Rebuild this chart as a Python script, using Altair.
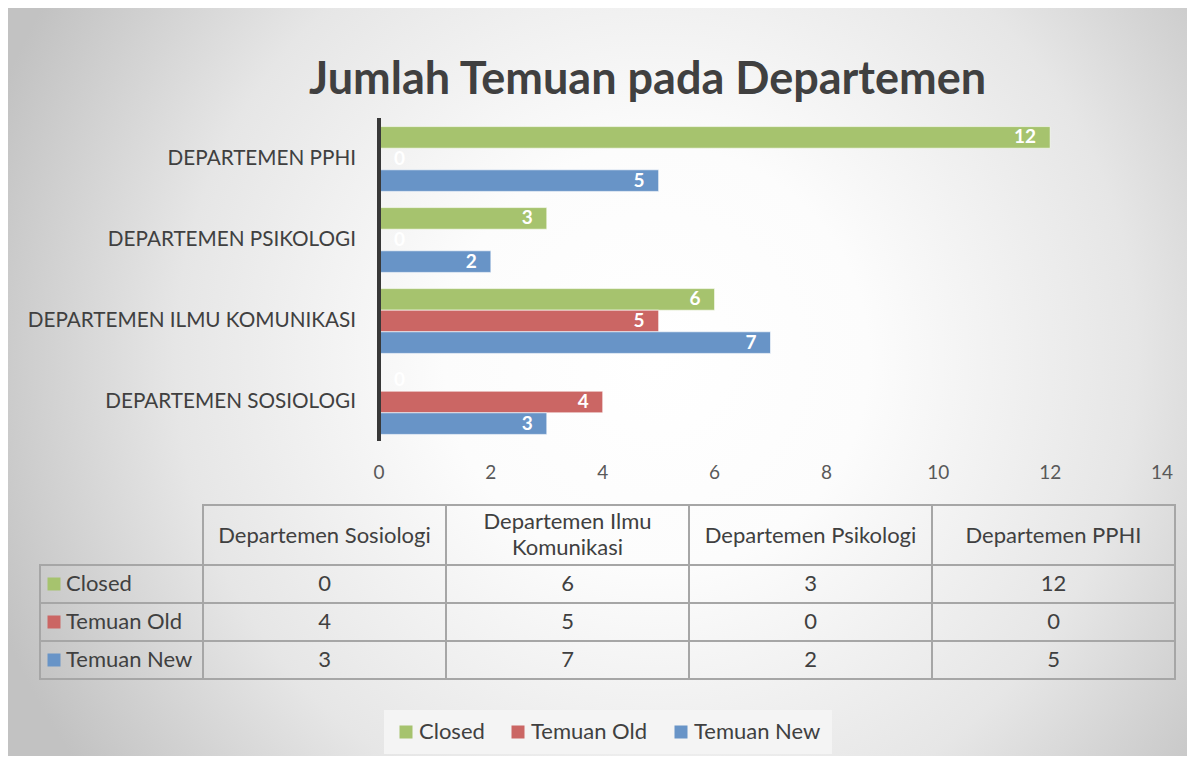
import altair as alt
import pandas as pd

# ---- data ----
departments = ["Departemen Sosiologi", "Departemen Ilmu Komunikasi", "Departemen Psikologi", "Departemen PPHI"]
series = ["Closed", "Temuan Old", "Temuan New"]
closed = [0, 6, 3, 12]
temuan_old = [4, 5, 0, 0]
temuan_new = [3, 7, 2, 5]
x_ticks = [0, 2, 4, 6, 8, 10, 12, 14]
colors = ["#A6C36E", "#CB6664", "#6894C7"]
title_text = "Jumlah Temuan pada Departemen"

rows = []
for s, vals in zip(series, [closed, temuan_old, temuan_new]):
    for d, v in zip(departments, vals):
        rows.append({"dept": d, "series": s, "value": v})
df = pd.DataFrame(rows)
dept_df = pd.DataFrame({"dept": departments})
series_df = pd.DataFrame({"series": series})
tick_df = pd.DataFrame({"t": x_ticks})
zero_df = pd.DataFrame({"z": [0]})
dept_top = departments[::-1]

FONT = "Lato"
TXT = "#404040"
GRID = "#A6A6A6"
W, H = 1179, 748
FS = 22  # table / legend text size

# ---- scales ----
def x_bar():
    return alt.Scale(domain=[0, 14], range=[371, 1154], nice=False, zero=True)

def y_bar():
    return alt.Scale(type="band", domain=dept_top, range=[110.5, 434.5], paddingInner=0.2, paddingOuter=0.1)

def y_off():
    return alt.Scale(type="band", domain=series, paddingInner=0, paddingOuter=0)

def x_tab():
    return alt.Scale(type="band", domain=departments, range=[195, 1167], paddingInner=0, paddingOuter=0)

def y_tab():
    return alt.Scale(type="band", domain=series, range=[557, 671], paddingInner=0, paddingOuter=0)

color_scale = alt.Scale(domain=series, range=colors)
legend = alt.Legend(
    title=None, orient="none", legendX=376, legendY=702, direction="horizontal",
    symbolType="square", symbolSize=169, symbolStrokeWidth=0, symbolOpacity=1,
    labelFont=FONT, labelFontSize=FS, labelColor=TXT, fillColor="#F4F4F4",
    padding=11, columnPadding=22, labelOffset=2,
)

def color_enc():
    return alt.Color("series:N", scale=color_scale, legend=legend)

# ---- background panel ----
gradient = {
    "gradient": "radial",
    "x1": 0.55, "y1": 0.48, "r1": 0,
    "x2": 0.55, "y2": 0.48, "r2": 0.6,
    "stops": [
        {"offset": 0.0, "color": "#FFFFFF"},
        {"offset": 0.3, "color": "#FCFCFC"},
        {"offset": 0.68, "color": "#E6E6E6"},
        {"offset": 1.0, "color": "#C2C2C2"},
    ],
}
bg = alt.Chart(zero_df).mark_rect(fill=gradient).encode(
    x=alt.value(0), x2=alt.value(W), y=alt.value(0), y2=alt.value(H)
)

# ---- bar chart ----
def X():
    return alt.X("value:Q", scale=x_bar(), axis=None)

def Y():
    return alt.Y("dept:N", scale=y_bar(), axis=None)

def YO():
    return alt.YOffset("series:N", scale=y_off())

bars = alt.Chart(df).mark_bar(stroke="#FFFFFF", strokeWidth=1, strokeOpacity=0.6).encode(
    x=X(), y=Y(), yOffset=YO(), color=color_enc()
)
lab_pos = alt.Chart(df).transform_filter("datum.value > 0").mark_text(
    align="right", baseline="middle", dx=-14, color="white", fontWeight="bold", fontSize=19, font=FONT
).encode(x=X(), y=Y(), yOffset=YO(), text=alt.Text("value:Q"))
lab_zero = alt.Chart(df).transform_filter("datum.value == 0").mark_text(
    align="left", baseline="middle", dx=15, color="white", fontWeight="bold", fontSize=19, font=FONT
).encode(x=X(), y=Y(), yOffset=YO(), text=alt.Text("value:Q"))
yline = alt.Chart(zero_df).mark_rule(color="#383838", strokeWidth=4).encode(
    x=alt.X("z:Q", scale=x_bar(), axis=None), y=alt.value(110), y2=alt.value(433)
)
dept_labels = alt.Chart(dept_df).transform_calculate(lbl="upper(datum.dept)").mark_text(
    align="right", baseline="middle", fontSize=20.7, font=FONT, color=TXT
).encode(y=Y(), x=alt.value(348), text="lbl:N")
tick_labels = alt.Chart(tick_df).mark_text(
    align="center", baseline="middle", fontSize=19, font=FONT, color="#595959"
).encode(x=alt.X("t:Q", scale=x_bar(), axis=None), y=alt.value(465), text="t:Q")

# ---- data table ----
def TX():
    return alt.X("dept:N", scale=x_tab(), axis=None)

def TY():
    return alt.Y("series:N", scale=y_tab(), axis=None)

wrap_expr = ("[join(slice(split(datum.dept, ' '), 0, 2), ' '), "
             "join(slice(split(datum.dept, ' '), 2), ' ')]")

cells = alt.Chart(df).mark_rect(fill="transparent", stroke=GRID, strokeWidth=2).encode(x=TX(), y=TY())
vals = alt.Chart(df).mark_text(fontSize=FS, font=FONT, color=TXT, baseline="middle").encode(
    x=TX(), y=TY(), text="value:Q"
)
head_cells = alt.Chart(dept_df).mark_rect(fill="transparent", stroke=GRID, strokeWidth=2).encode(
    x=TX(), y=alt.value(497), y2=alt.value(557)
)
head_one = alt.Chart(dept_df).transform_filter("length(datum.dept) <= 24").mark_text(
    fontSize=FS, font=FONT, color=TXT, baseline="middle"
).encode(x=TX(), y=alt.value(528), text="dept:N")
head_two = alt.Chart(dept_df).transform_filter("length(datum.dept) > 24").transform_calculate(
    w=wrap_expr
).mark_text(fontSize=FS, font=FONT, color=TXT, baseline="middle", lineHeight=26).encode(
    x=TX(), y=alt.value(514), text="w:N"
)
key_cells = alt.Chart(series_df).mark_rect(fill="transparent", stroke=GRID, strokeWidth=2).encode(
    x=alt.value(32), x2=alt.value(195), y=TY()
)
key_sq = alt.Chart(series_df).mark_square(size=169, opacity=1).encode(
    x=alt.value(46), y=TY(), color=color_enc()
)
key_txt = alt.Chart(series_df).mark_text(align="left", baseline="middle", fontSize=FS, font=FONT, color=TXT).encode(
    x=alt.value(58), y=TY(), text="series:N"
)

chart = alt.layer(
    bg, bars, lab_pos, lab_zero, yline, dept_labels, tick_labels,
    cells, vals, head_cells, head_one, head_two, key_cells, key_sq, key_txt,
).resolve_scale(
    x="independent", y="independent", yOffset="independent"
).properties(
    width=W, height=H, padding=0,
    autosize=alt.AutoSizeParams(type="none"),
    title=alt.Title(title_text, fontSize=45, font=FONT, fontWeight="bold", color=TXT,
                    anchor="middle", offset=-95, dx=50),
).configure_view(stroke=None)

chart.save("out.html", embed_options={"renderer": "svg", "actions": False})
